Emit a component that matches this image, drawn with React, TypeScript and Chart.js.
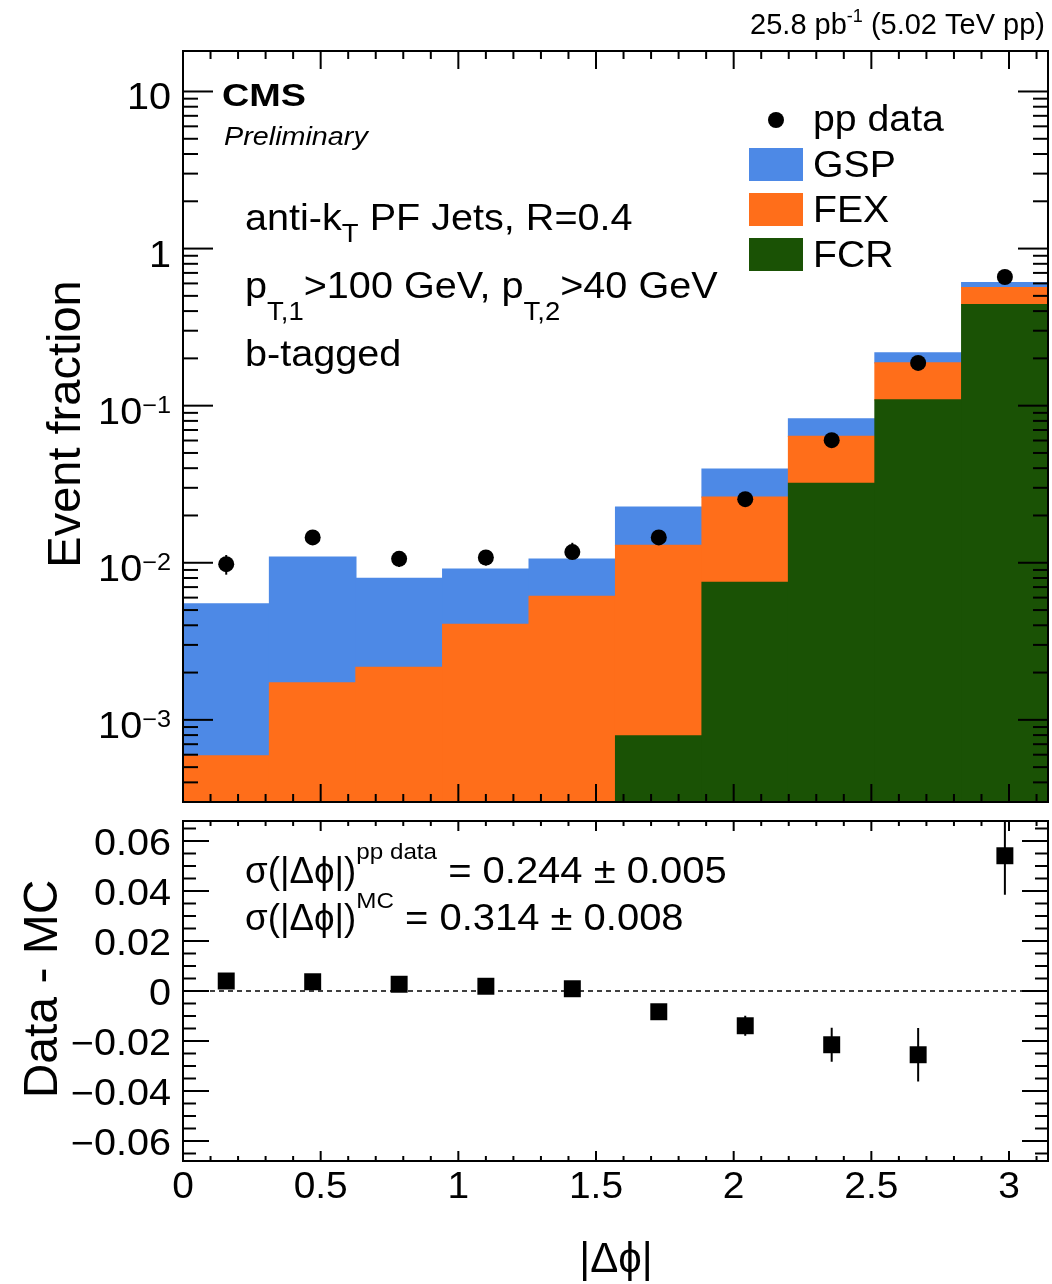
import React, { useEffect, useRef } from 'react';
import { Chart, registerables } from 'chart.js';

Chart.register(...registerables);

// ---------------- data ----------------
const binCenters = [0.157, 0.471, 0.785, 1.1, 1.414, 1.728, 2.042, 2.356, 2.67, 2.985];
const binEdges = [0, 0.314, 0.628, 0.942, 1.257, 1.571, 1.885, 2.199, 2.513, 2.827, 3.1416];

const fcrFrac = [0, 0, 0, 0, 0, 0.00079, 0.0075, 0.032, 0.109, 0.44];
const fexFrac = [0.00059, 0.00172, 0.00216, 0.00406, 0.00611, 0.0121, 0.0187, 0.0318, 0.078, 0.125];
const gspFrac = [0.00488, 0.00914, 0.00581, 0.00506, 0.00444, 0.0097, 0.0132, 0.0187, 0.03, 0.043];

const ppData = [0.0098, 0.0145, 0.0106, 0.0108, 0.0117, 0.0145, 0.0254, 0.0603, 0.187, 0.659];
const ppDataErr = [0.0014, 0.0012, 0.0012, 0.0012, 0.0017, 0.001, 0.001, 0.0015, 0.004, 0.008];

const dataMinusMC = [0.004, 0.0037, 0.0027, 0.0019, 0.0009, -0.0083, -0.0139, -0.0215, -0.0255, 0.0541];
const dataMinusMCErr = [0.0012, 0.0012, 0.0012, 0.0012, 0.0015, 0.0022, 0.004, 0.0068, 0.0107, 0.0156];

const logTickValues = [10, 1, 0.1, 0.01, 0.001];
const logTickLabels: [string, string][] = [['10', ''], ['1', ''], ['10', '\u22121'], ['10', '\u22122'], ['10', '\u22123']];
const diffTickValues = [0.06, 0.04, 0.02, 0, -0.02, -0.04, -0.06];
const diffTickLabels = ['0.06', '0.04', '0.02', '0', '\u22120.02', '\u22120.04', '\u22120.06'];
const xTickValues = [0, 0.5, 1, 1.5, 2, 2.5, 3];
const xTickLabels = ['0', '0.5', '1', '1.5', '2', '2.5', '3'];

const seriesNames = ['pp data', 'GSP', 'FEX', 'FCR'];

// ---------------- style ----------------
const BLUE = '#4d89e6';
const ORANGE = '#ff6e1a';
const GREEN = '#1a5205';
const FONT = '"Liberation Sans", Arimo, Arial, Helvetica, "DejaVu Sans", sans-serif';
const SX = 1.1;
const PHI = '\u03d5';

type Seg = { t: string; size: number; dy?: number; bold?: boolean; italic?: boolean; sx?: number };
const segFont = (s: Seg) => `${s.italic ? 'italic ' : ''}${s.bold ? 'bold ' : ''}${s.size}px ${FONT}`;

function drawRich(ctx: CanvasRenderingContext2D, x: number, y: number, segs: Seg[], align = 'left', sx = SX) {
  let total = 0;
  const ws: number[] = [];
  for (const s of segs) {
    ctx.font = segFont(s);
    const w = ctx.measureText(s.t).width * (s.sx ?? sx);
    ws.push(w);
    total += w;
  }
  let cx = align === 'right' ? x - total : align === 'center' ? x - total / 2 : x;
  segs.forEach((s, i) => {
    ctx.save();
    ctx.font = segFont(s);
    ctx.textAlign = 'left';
    ctx.textBaseline = 'alphabetic';
    ctx.fillStyle = '#000';
    ctx.translate(cx, y + (s.dy || 0));
    ctx.scale(s.sx ?? sx, 1);
    ctx.fillText(s.t, 0, 0);
    ctx.restore();
    cx += ws[i];
  });
  return total;
}

function drawRotated(ctx: CanvasRenderingContext2D, text: string, x: number, y: number, size: number) {
  ctx.save();
  ctx.font = `${size}px ${FONT}`;
  ctx.fillStyle = '#000';
  ctx.translate(x, y);
  ctx.rotate(-Math.PI / 2);
  ctx.textAlign = 'center';
  ctx.textBaseline = 'alphabetic';
  ctx.fillText(text, 0, 0);
  ctx.restore();
}

function seg(ctx: CanvasRenderingContext2D, x1: number, y1: number, x2: number, y2: number) {
  ctx.beginPath();
  ctx.moveTo(x1, y1);
  ctx.lineTo(x2, y2);
  ctx.stroke();
}

const topDecor = {
  id: 'topDecor',
  beforeDatasetsDraw(chart: any) {
    const { ctx, scales: { x, y } } = chart;
    ctx.save();
    ctx.strokeStyle = '#000';
    ctx.lineWidth = 2;
    binCenters.forEach((c, i) => {
      const px = x.getPixelForValue(c);
      seg(ctx, px, y.getPixelForValue(ppData[i] - ppDataErr[i]), px, y.getPixelForValue(ppData[i] + ppDataErr[i]));
    });
    ctx.restore();
  },
  afterDraw(chart: any) {
    const { ctx, chartArea: a, scales: { x, y } } = chart;
    ctx.save();
    ctx.strokeStyle = '#000';
    ctx.lineWidth = 2;
    for (let i = 0; i <= 31; i++) {
      const px = x.getPixelForValue(i / 10);
      const len = i % 5 === 0 ? 18 : 8;
      seg(ctx, px, a.bottom, px, a.bottom - len);
      seg(ctx, px, a.top, px, a.top + len);
    }
    for (let k = -4; k <= 1; k++) {
      for (let m = 1; m <= 9; m++) {
        const v = m * Math.pow(10, k);
        if (v < y.min || v > y.max) continue;
        const py = y.getPixelForValue(v);
        const len = m === 1 ? 30 : 15;
        seg(ctx, a.left, py, a.left + len, py);
        seg(ctx, a.right, py, a.right - len, py);
      }
    }
    ctx.strokeRect(a.left, a.top, a.right - a.left, a.bottom - a.top);

    // y tick labels
    logTickValues.forEach((v, i) => {
      const py = y.getPixelForValue(v);
      const [base, sup] = logTickLabels[i];
      const segs: Seg[] = [{ t: base, size: 36 }];
      if (sup) segs.push({ t: sup, size: 23, dy: -11 });
      drawRich(ctx, 171, py + 18, segs, 'right', 1.1);
    });

    drawRotated(ctx, 'Event fraction', 80, 424, 47);

    // header
    drawRich(ctx, 1045, 34, [{ t: '25.8 pb', size: 29 }, { t: '-1', size: 18, dy: -12 }, { t: ' (5.02 TeV pp)', size: 29 }], 'right', 1.0);
    drawRich(ctx, 222, 106, [{ t: 'CMS', size: 31, bold: true }], 'left', 1.22);
    drawRich(ctx, 224, 145, [{ t: 'Preliminary', size: 25, italic: true }], 'left', 1.15);

    drawRich(ctx, 245, 230, [{ t: 'anti-k', size: 36 }, { t: 'T', size: 25, dy: 12 }, { t: ' PF Jets, R=0.4', size: 36 }]);
    drawRich(ctx, 245, 298, [
      { t: 'p', size: 36 }, { t: 'T,1', size: 25, dy: 22 }, { t: '>100 GeV, p', size: 36 },
      { t: 'T,2', size: 25, dy: 22 }, { t: '>40 GeV', size: 36 },
    ]);
    drawRich(ctx, 245, 366, [{ t: 'b-tagged', size: 36 }]);

    // legend
    const ds = chart.data.datasets;
    ctx.fillStyle = '#000';
    ctx.beginPath();
    ctx.arc(776, 120, 8, 0, Math.PI * 2);
    ctx.fill();
    drawRich(ctx, 813, 131, [{ t: seriesNames[0], size: 37 }], 'left', 1.06);
    const boxes = [
      { y: 148, color: ds[3].backgroundColor, name: seriesNames[1] },
      { y: 193, color: ds[2].backgroundColor, name: seriesNames[2] },
      { y: 238, color: ds[1].backgroundColor, name: seriesNames[3] },
    ];
    boxes.forEach((b) => {
      ctx.fillStyle = b.color;
      ctx.fillRect(749, b.y, 54, 33);
      drawRich(ctx, 813, b.y + 29, [{ t: b.name, size: 37 }], 'left', 1.06);
    });
    ctx.restore();
  },
};

const botDecor = {
  id: 'botDecor',
  beforeDatasetsDraw(chart: any) {
    const { ctx, chartArea: a, scales: { x, y } } = chart;
    ctx.save();
    ctx.strokeStyle = '#000';
    ctx.lineWidth = 1.5;
    ctx.setLineDash([5, 4]);
    const y0 = y.getPixelForValue(0);
    seg(ctx, a.left, y0, a.right, y0);
    ctx.setLineDash([]);
    ctx.beginPath();
    ctx.rect(a.left, a.top, a.right - a.left, a.bottom - a.top);
    ctx.clip();
    ctx.lineWidth = 2;
    binCenters.forEach((c, i) => {
      const px = x.getPixelForValue(c);
      seg(ctx, px, y.getPixelForValue(dataMinusMC[i] - dataMinusMCErr[i]), px, y.getPixelForValue(dataMinusMC[i] + dataMinusMCErr[i]));
    });
    ctx.restore();
  },
  afterDraw(chart: any) {
    const { ctx, chartArea: a, scales: { x, y } } = chart;
    ctx.save();
    ctx.strokeStyle = '#000';
    ctx.lineWidth = 2;
    for (let i = 0; i <= 31; i++) {
      const px = x.getPixelForValue(i / 10);
      const len = i % 5 === 0 ? 10 : 5;
      seg(ctx, px, a.bottom, px, a.bottom - len);
      seg(ctx, px, a.top, px, a.top + len);
    }
    for (let i = -13; i <= 13; i++) {
      const v = i * 0.005;
      if (v < y.min || v > y.max) continue;
      const py = y.getPixelForValue(v);
      const len = i % 4 === 0 ? 26 : 13;
      seg(ctx, a.left, py, a.left + len, py);
      seg(ctx, a.right, py, a.right - len, py);
    }
    ctx.strokeRect(a.left, a.top, a.right - a.left, a.bottom - a.top);

    diffTickValues.forEach((v, i) => {
      const py = y.getPixelForValue(v);
      drawRich(ctx, 171, py + 14, [{ t: diffTickLabels[i], size: 36 }], 'right', 1.1);
    });
    xTickValues.forEach((v, i) => {
      const px = x.getPixelForValue(v);
      drawRich(ctx, px, 1198, [{ t: xTickLabels[i], size: 36 }], 'center', 1.08);
    });

    drawRotated(ctx, 'Data - MC', 57, 989, 48);
    drawRich(ctx, 616, 1272, [{ t: '|\u0394' + PHI + '|', size: 42 }], 'center', 1.0);

    drawRich(ctx, 245, 883, [
      { t: '\u03c3(|\u0394' + PHI + '|)', size: 36, sx: 1.02 }, { t: 'pp data', size: 22, dy: -24, sx: 1.1 },
      { t: ' = 0.244 \u00b1 0.005', size: 36, sx: 1.11 },
    ]);
    drawRich(ctx, 245, 930, [
      { t: '\u03c3(|\u0394' + PHI + '|)', size: 36, sx: 1.02 }, { t: 'MC', size: 22, dy: -22, sx: 1.1 },
      { t: ' = 0.314 \u00b1 0.008', size: 36, sx: 1.11 },
    ]);
    ctx.restore();
  },
};

export default function App() {
  const topRef = useRef<HTMLCanvasElement>(null);
  const botRef = useRef<HTMLCanvasElement>(null);

  useEffect(() => {
    const pts = (vals: number[]) => binCenters.map((x, i) => ({ x, y: vals[i] }));
    const c1 = new Chart(topRef.current as HTMLCanvasElement, {
      type: 'bar',
      data: {
        datasets: [
          {
            type: 'line', label: seriesNames[0], data: pts(ppData), showLine: false,
            pointRadius: 8, pointHoverRadius: 8, pointBackgroundColor: '#000', pointBorderWidth: 0, order: 0,
          } as any,
          { type: 'bar', label: seriesNames[3], data: pts(fcrFrac), backgroundColor: GREEN, order: 1 },
          { type: 'bar', label: seriesNames[2], data: pts(fexFrac), backgroundColor: ORANGE, order: 1 },
          { type: 'bar', label: seriesNames[1], data: pts(gspFrac), backgroundColor: BLUE, order: 1 },
        ],
      },
      options: {
        animation: false,
        responsive: false,
        devicePixelRatio: 1,
        events: [],
        layout: { autoPadding: false, padding: { left: 183, right: 4, top: 51, bottom: 482 } },
        plugins: { legend: { display: false }, tooltip: { enabled: false } },
        datasets: { bar: { barPercentage: 1, categoryPercentage: 1, borderWidth: 0, inflateAmount: 0.6 } } as any,
        scales: {
          x: {
            type: 'linear', min: 0, max: Math.PI, stacked: true, offset: false, display: false,
            afterBuildTicks: (s: any) => { s.ticks = binEdges.map((v) => ({ value: v })); },
          },
          y: { type: 'logarithmic', min: 3.36e-4, max: 18.1, stacked: true, display: false },
        },
      } as any,
      plugins: [topDecor],
    });

    const c2 = new Chart(botRef.current as HTMLCanvasElement, {
      type: 'scatter',
      data: {
        datasets: [
          {
            label: 'Data - MC', data: pts(dataMinusMC), showLine: false, pointStyle: 'rect',
            pointRadius: 12, pointHoverRadius: 12, pointBackgroundColor: '#000', pointBorderWidth: 0,
          },
        ],
      },
      options: {
        animation: false,
        responsive: false,
        devicePixelRatio: 1,
        events: [],
        layout: { autoPadding: false, padding: { left: 183, right: 4, top: 821, bottom: 123 } },
        plugins: { legend: { display: false }, tooltip: { enabled: false } },
        scales: {
          x: { type: 'linear', min: 0, max: Math.PI, display: false },
          y: { type: 'linear', min: -0.068, max: 0.068, display: false },
        },
      } as any,
      plugins: [botDecor],
    });

    return () => {
      c1.destroy();
      c2.destroy();
    };
  }, []);

  return (
    <div style={{ position: 'absolute', left: 0, top: 0, width: 1052, height: 1284, background: '#fff' }}>
      <canvas ref={topRef} width={1052} height={1284} style={{ position: 'absolute', left: 0, top: 0, width: 1052, height: 1284 }} />
      <canvas ref={botRef} width={1052} height={1284} style={{ position: 'absolute', left: 0, top: 0, width: 1052, height: 1284 }} />
    </div>
  );
}
